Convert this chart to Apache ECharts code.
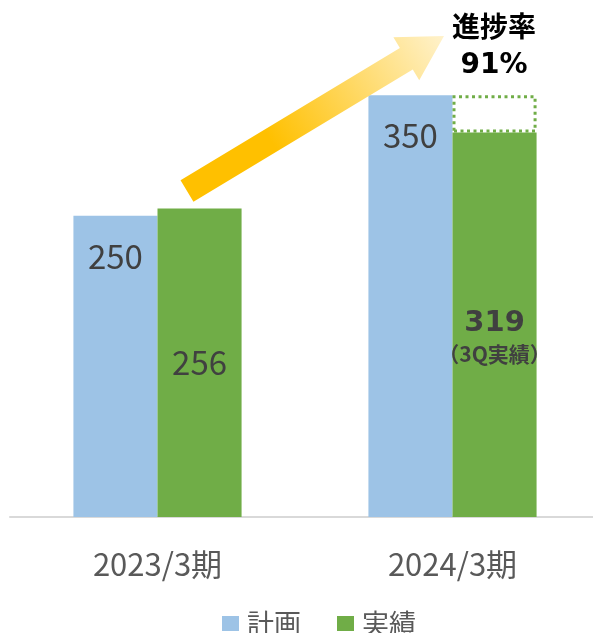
<!DOCTYPE html>
<html>
<head>
<meta charset="utf-8">
<script src="https://cdn.jsdelivr.net/npm/echarts@6/dist/echarts.min.js"></script>
<style>
  html, body { margin: 0; padding: 0; background: #fff; }
  #main { width: 593px; height: 633px; }
</style>
</head>
<body>
<div id="main"></div>
<script>
// データ
var categories = ['2023/3期', '2024/3期']
var planValues = [250, 350]
var actualValues = [256, 319]
var remainValues = [null, 31]   // 計画までの残り（点線枠）
var seriesNames = ['計画', '実績']

var FONT = '"Noto Sans CJK JP", sans-serif'
var BOLD_FONT = 'DejaVu Sans, "Noto Sans CJK JP", sans-serif'
var TEXT = '#404040'

var myChart = echarts.init(document.getElementById('main'))

// 矢印（装飾）
function arrowPoints (tail, tip, halfShaft, halfHead, headLen) {
  var dx = tip[0] - tail[0]
  var dy = tip[1] - tail[1]
  var len = Math.sqrt(dx * dx + dy * dy)
  var ux = dx / len, uy = dy / len
  var nx = -uy, ny = ux
  var bx = tip[0] - ux * headLen, by = tip[1] - uy * headLen
  return [
    [tail[0] + nx * halfShaft, tail[1] + ny * halfShaft],
    [bx + nx * halfShaft, by + ny * halfShaft],
    [bx + nx * halfHead, by + ny * halfHead],
    tip,
    [bx - nx * halfHead, by - ny * halfHead],
    [bx - nx * halfShaft, by - ny * halfShaft],
    [tail[0] - nx * halfShaft, tail[1] - ny * halfShaft]
  ]
}

var actualData = actualValues.map(function (v, i) {
  if (i === 1) {
    return {
      value: v,
      label: {
        formatter: '{b|' + v + '}\n{s|（3Q実績）}',
        offset: [0, 12],
        rich: {
          b: { fontSize: 29, fontWeight: 'bold', color: TEXT, fontFamily: BOLD_FONT, lineHeight: 34 },
          s: { fontSize: 21, fontWeight: 'bold', color: TEXT, fontFamily: FONT, lineHeight: 26 }
        }
      }
    }
  }
  return v
})

var options = {
  animation: false,
  grid: { left: 10, width: 590, top: 35, bottom: 116, containLabel: false, outerBoundsMode: 'none' },
  legend: {
    data: seriesNames,
    top: 605,
    left: 217,
    itemWidth: 17,
    itemHeight: 15,
    itemGap: 36,
    icon: 'rect',
    textStyle: { fontSize: 27, color: '#595959', fontFamily: FONT, padding: [0, 0, 0, 3] }
  },
  xAxis: {
    type: 'category',
    data: categories,
    axisLine: { lineStyle: { color: '#d9d9d9', width: 2 } },
    axisTick: { show: false },
    axisLabel: { fontSize: 31, color: '#595959', fontFamily: FONT, margin: 32 }
  },
  yAxis: {
    type: 'value',
    min: 0,
    max: 400,
    show: false,
    splitLine: { show: false }
  },
  graphic: [
    {
      type: 'polygon',
      z: 10,
      shape: { points: arrowPoints([187, 191], [444, 36], 12.5, 25, 44) },
      style: {
        fill: new echarts.graphic.LinearGradient(0, 1, 1, 0, [
          { offset: 0, color: '#FFC000' },
          { offset: 0.35, color: '#FFC000' },
          { offset: 1, color: '#FFF2CC' }
        ])
      }
    },
    {
      type: 'text',
      left: 452,
      top: 12,
      z: 10,
      style: {
        text: '進捗率\n91%',
        x: 43,
        textAlign: 'center',
        font: 'bold 28px ' + BOLD_FONT,
        lineHeight: 36,
        fill: '#000'
      }
    }
  ],
  series: [
    {
      name: seriesNames[0],
      type: 'bar',
      barGap: '0%',
      barCategoryGap: '43%',
      itemStyle: { color: '#9DC3E6' },
      label: {
        show: true,
        position: 'insideTop',
        distance: 24,
        fontSize: 33,
        color: TEXT,
        fontFamily: FONT
      },
      data: planValues
    },
    {
      name: seriesNames[1],
      type: 'bar',
      stack: 'act',
      itemStyle: { color: '#70AD47' },
      label: {
        show: true,
        position: 'inside',
        fontSize: 33,
        color: TEXT,
        fontFamily: FONT
      },
      data: actualData
    },
    {
      name: '残り',
      type: 'bar',
      stack: 'act',
      itemStyle: {
        color: '#fff',
        borderColor: '#70AD47',
        borderWidth: 3,
        borderType: [3, 3.5]
      },
      data: remainValues
    }
  ]
}

myChart.setOption(options)
</script>
</body>
</html>
